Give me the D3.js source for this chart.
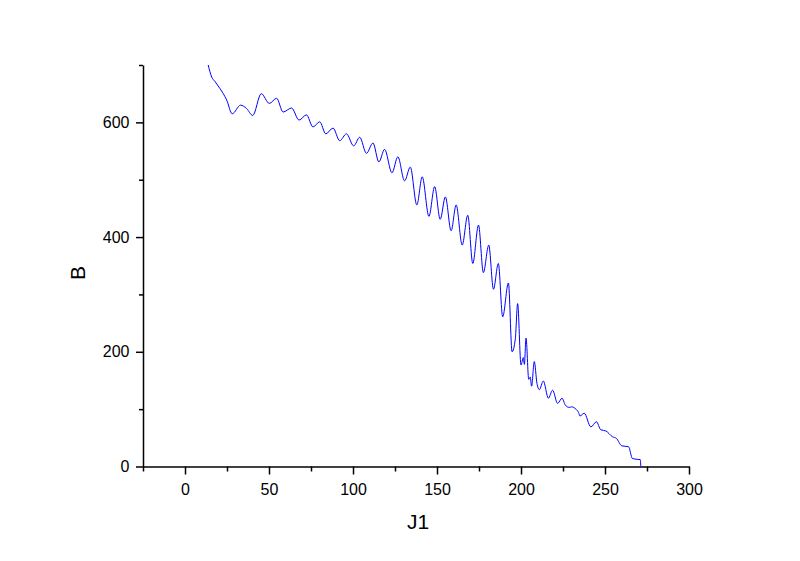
<!DOCTYPE html>
<html>
<head>
<meta charset="utf-8">
<script src="https://cdn.jsdelivr.net/npm/d3@7"></script>
<style>
  html, body { margin: 0; padding: 0; background: #fff; }
  svg { display: block; }
  text { font-family: "Liberation Sans", Arial, sans-serif; fill: #000; }
</style>
</head>
<body>
<svg id="chart" width="800" height="561"></svg>
<script>
// ---- data ----
const xTitle = "J1";
const yTitle = "B";
const xMajorTicks = [0, 50, 100, 150, 200, 250, 300];
const xMinorTicks = [-25, 25, 75, 125, 175, 225, 275];
const yMajorTicks = [0, 200, 400, 600];
const yMinorTicks = [100, 300, 500, 700];
const xDomain = [-25, 300];
const yDomain = [0, 700];

const seriesJ1 = [
  13.8, 15.9, 17.9, 20.8, 22.8, 24.8, 28.1, 33.1, 36.7, 40.3,
  45.4, 50.2, 54.5, 58.4, 63.4, 67.9, 72.3, 76.2, 80.2, 83.8,
  88.1, 92.1, 96.1, 100.4, 104.0, 108.0, 111.9, 115.4, 118.8, 123.2,
  126.7, 130.7, 134.1, 138.0, 141.2, 145.2, 148.6, 151.9, 155.0, 158.4,
  161.4, 165.0, 168.3, 171.3, 174.7, 177.6, 180.8, 183.6, 186.5, 189.1,
  192.5, 194.7, 196.6, 198.0, 200.0, 201.4, 202.0, 203.0, 204.6, 205.5,
  206.3, 207.9, 209.5, 210.9, 213.3, 216.3, 218.8, 221.8, 224.4, 226.4,
  228.7, 230.1, 232.7, 234.3, 235.1, 237.6, 241.6, 244.9, 247.5, 250.5,
  254.4, 256.8, 260.0, 264.0, 266.3, 269.3, 271.0, 271.3
];
const seriesB = [
  700, 679, 671, 659, 650, 639, 615, 630, 624, 612,
  650, 633, 642, 618, 625, 604, 613, 592, 601, 580,
  590, 568, 580, 559, 574, 546, 564, 531, 553, 512,
  540, 498, 522, 456, 505, 436, 488, 431, 470, 411,
  456, 386, 438, 354, 421, 338, 386, 309, 354, 261,
  320, 200, 222, 284, 177, 190, 178, 224, 152, 156,
  140, 183, 145, 134, 149, 119, 133, 110, 119, 107,
  103, 104, 100, 94, 88, 93, 69, 78, 64, 62,
  52, 49, 36, 34.5, 14, 12.5, 12, 0
];

// ---- layout ----
const svg = d3.select("#chart");
const x = d3.scaleLinear().domain(xDomain).range([143, 689]);
const y = d3.scaleLinear().domain(yDomain).range([466.5, 65]);

// minor ticks
svg.append("g")
  .attr("transform", `translate(0,${y(0)})`)
  .call(d3.axisBottom(x).tickValues(xMinorTicks).tickSize(5).tickSizeOuter(0).tickFormat(""))
  .call(g => g.select(".domain").remove())
  .call(g => g.selectAll("line").attr("stroke-width", 1.5));
svg.append("g")
  .attr("transform", `translate(${x(-25)},0)`)
  .call(d3.axisLeft(y).tickValues(yMinorTicks).tickSize(4).tickSizeOuter(0).tickFormat(""))
  .call(g => g.select(".domain").remove())
  .call(g => g.selectAll("line").attr("stroke-width", 1.5));

// major axes
const xAxis = svg.append("g")
  .attr("transform", `translate(0,${y(0)})`)
  .call(d3.axisBottom(x).tickValues(xMajorTicks).tickSize(8).tickSizeOuter(0).tickPadding(9).tickFormat(d3.format("d")));
const yAxis = svg.append("g")
  .attr("transform", `translate(${x(-25)},0)`)
  .call(d3.axisLeft(y).tickValues(yMajorTicks).tickSize(7).tickSizeOuter(0).tickPadding(6.5).tickFormat(d3.format("d")));

[xAxis, yAxis].forEach(g => {
  g.select(".domain").attr("stroke-width", 1.5);
  g.selectAll("line").attr("stroke-width", 1.5);
  g.selectAll("text").attr("font-size", 16)
    .attr("font-family", "'Liberation Sans', Arial, sans-serif");
});

// axis titles
svg.append("text")
  .attr("x", (x(-25) + x(300)) / 2 + 2)
  .attr("y", 529)
  .attr("text-anchor", "middle")
  .attr("font-size", 21)
  .text(xTitle);
svg.append("text")
  .attr("transform", `translate(84.5,273) rotate(-90)`)
  .attr("text-anchor", "middle")
  .attr("font-size", 21)
  .text(yTitle);

// line
const pts = seriesJ1.map((v, i) => [v, seriesB[i]]);
const line = d3.line()
  .x(d => x(d[0]))
  .y(d => y(d[1]))
  .curve(d3.curveMonotoneX);
svg.append("path")
  .datum(pts)
  .attr("fill", "none")
  .attr("stroke", "#0000ff")
  .attr("stroke-width", 1)
  .attr("d", line);
</script>
</body>
</html>
